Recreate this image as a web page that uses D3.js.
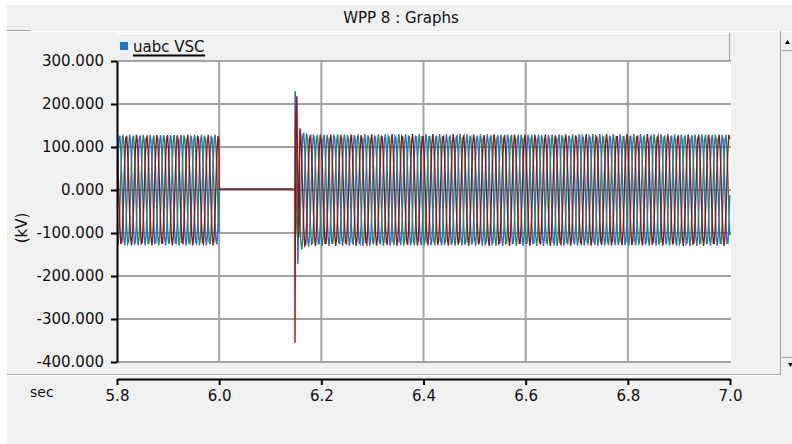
<!DOCTYPE html>
<html>
<head>
<meta charset="utf-8">
<script src="https://cdn.jsdelivr.net/npm/d3@7"></script>
<style>
  html, body { margin: 0; padding: 0; background: #fff; }
  svg { display: block; font-family: "DejaVu Sans", Verdana, sans-serif; }
</style>
</head>
<body>
<div id="chart"></div>
<script>
// ---- data ----
const xTicks = [5.8, 6.0, 6.2, 6.4, 6.6, 6.8, 7.0];
const yTicks = [300, 200, 100, 0, -100, -200, -300, -400];
const phaseNames = ['a', 'b', 'c'];
const phaseShiftDeg = [0, -120, 120];
const freqHz = 50;
const sampleStep = 0.0019;     // recorded step, coarse like the plotted trace
// segments: steady state, fault (voltage ~0), recovered
const segStart = [5.8, 6.0, 6.158];
const segEnd = [6.0, 6.148, 7.0];
const segPeakKV = [129, 2, 130];
const overshootKV = 14;        // extra peak right after clearing, decays
const overshootTau = 0.008;
// switching spikes at fault clearing (time, kV) per phase
const spikeA = [[6.148, 0], [6.1486, 230], [6.150, 205], [6.152, 70], [6.154, -172], [6.156, -60]];
const spikeB = [[6.148, 0], [6.1488, 120], [6.150, 165], [6.152, -90], [6.1545, -120], [6.156, 20]];
const spikeC = [[6.148, 2], [6.1484, -355], [6.149, -120], [6.150, 170], [6.152, 218], [6.154, 40], [6.156, -110]];

const W = 792, H = 444;
const plot = { left: 117, right: 730, top: 61, bottom: 362 };
const colors = { a: '#1f74d2', b: '#1a8a6c', c: '#a01010' };

const svg = d3.select('#chart').append('svg')
  .attr('width', W).attr('height', H)
  .attr('viewBox', `0 0 ${W} ${H}`);

// window chrome
svg.append('rect').attr('x', 7).attr('y', 5).attr('width', W - 7).attr('height', H - 5).attr('fill', '#f0f0f0');
svg.append('line').attr('x1', 7).attr('x2', 30).attr('y1', 30.5).attr('y2', 30.5).attr('stroke', '#a0a0a0');
svg.append('line').attr('x1', 7).attr('x2', W).attr('y1', 31.5).attr('y2', 31.5).attr('stroke', '#fff');
svg.append('text').attr('x', 401).attr('y', 23).attr('text-anchor', 'middle')
  .attr('font-size', 15).attr('fill', '#111').text('WPP  8 : Graphs');

// scrollbar on the right
svg.append('line').attr('x1', 780.5).attr('x2', 780.5).attr('y1', 31).attr('y2', 375).attr('stroke', '#a0a0a0');
svg.append('line').attr('x1', 782).attr('x2', W).attr('y1', 50.5).attr('y2', 50.5).attr('stroke', '#a0a0a0');
svg.append('line').attr('x1', 782).attr('x2', W).attr('y1', 357.5).attr('y2', 357.5).attr('stroke', '#a0a0a0');
svg.append('path').attr('d', 'M785,44 L790,44 L787.5,40 Z').attr('fill', '#000');
svg.append('path').attr('d', 'M788,363 L793,363 L790.5,367 Z').attr('fill', '#000');

// separator above x axis
svg.append('line').attr('x1', 7).attr('x2', 780).attr('y1', 374.5).attr('y2', 374.5).attr('stroke', '#a8a8a8');
svg.append('line').attr('x1', 7).attr('x2', 780).attr('y1', 375.5).attr('y2', 375.5).attr('stroke', '#fff');

// plot background
svg.append('rect').attr('x', plot.left).attr('y', plot.top).attr('width', plot.right - plot.left + 1)
  .attr('height', plot.bottom - plot.top).attr('fill', '#fff');

const x = d3.scaleLinear().domain([5.8, 7.0]).range([plot.left, plot.right]);
const y = d3.scaleLinear().domain([-400, 300]).range([plot.bottom, plot.top]);

// grid
const grid = svg.append('g').attr('stroke', '#a3a3a3').attr('stroke-width', 2);
grid.selectAll('.gx').data(xTicks.slice(1, -1)).join('line')
  .attr('x1', d => x(d)).attr('x2', d => x(d)).attr('y1', plot.top).attr('y2', plot.bottom);
grid.selectAll('.gy').data(yTicks).join('line')
  .attr('x1', plot.left).attr('x2', plot.right + 1).attr('y1', d => y(d)).attr('y2', d => y(d));

// build the three phase series
function seriesFor(k) {
  const pts = [];
  const shift = phaseShiftDeg[k] * Math.PI / 180;
  const spikes = [spikeA, spikeB, spikeC][k];
  for (let s = 0; s < segStart.length; s++) {
    if (s === 2) spikes.forEach(p => pts.push(p));
    const step = s === 1 ? 0.01 : sampleStep;
    for (let t = segStart[s]; t <= segEnd[s] + 1e-9; t += step) {
      let amp = segPeakKV[s];
      if (s === 2) amp += overshootKV * Math.exp(-(t - segStart[s]) / overshootTau);
      const v = s === 1 ? amp : amp * Math.sin(2 * Math.PI * freqHz * t + shift);
      pts.push([t, v]);
    }
  }
  return pts;
}

svg.append('clipPath').attr('id', 'clip').append('rect')
  .attr('x', plot.left).attr('y', plot.top - 1).attr('width', plot.right - plot.left + 1)
  .attr('height', plot.bottom - plot.top + 2);

const line = d3.line().x(d => x(d[0])).y(d => y(d[1]));
const wave = svg.append('g').attr('clip-path', 'url(#clip)');
[0, 1, 2].forEach(k => {
  wave.append('path').datum(seriesFor(k))
    .attr('fill', 'none')
    .attr('stroke', colors[phaseNames[k]])
    .attr('stroke-width', 1.4)
    .attr('d', line);
});

// legend bar
const lg = svg.append('g');
lg.append('rect').attr('x', 116).attr('y', 33).attr('width', 614).attr('height', 27).attr('fill', '#f0f0f0');
lg.append('line').attr('x1', 116).attr('x2', 730).attr('y1', 33.5).attr('y2', 33.5).attr('stroke', '#fff');
lg.append('line').attr('x1', 729.5).attr('x2', 729.5).attr('y1', 33).attr('y2', 60).attr('stroke', '#a0a0a0');
lg.append('rect').attr('x', 120).attr('y', 42).attr('width', 8).attr('height', 8).attr('fill', '#1f74d2');
lg.append('text').attr('x', 133).attr('y', 52).attr('font-size', 15).attr('fill', '#111').text('uabc VSC');
lg.append('line').attr('x1', 133).attr('x2', 205).attr('y1', 55.5).attr('y2', 55.5).attr('stroke', '#000').attr('stroke-width', 2);

// y axis
const yAxis = svg.append('g').attr('transform', `translate(${plot.left},0)`)
  .call(d3.axisLeft(y).tickValues(yTicks).tickSize(6).tickSizeOuter(0).tickPadding(7)
    .tickFormat(d => d.toFixed(3)));
yAxis.select('.domain').attr('stroke', '#000').attr('stroke-width', 2);
yAxis.selectAll('.tick line').attr('stroke', '#000').attr('stroke-width', 2);
yAxis.selectAll('.tick text').attr('font-size', 15).attr('font-family', '"DejaVu Sans", Verdana, sans-serif').attr('fill', '#111');

svg.append('text').attr('transform', 'translate(27,228) rotate(-90)').attr('text-anchor', 'middle')
  .attr('font-size', 15).attr('fill', '#111').text('(kV)');

// x axis, drawn below the plot as in the source tool
const xAxis = svg.append('g').attr('transform', 'translate(0,379)')
  .call(d3.axisBottom(x).tickValues(xTicks).tickSize(6).tickSizeOuter(0).tickPadding(5)
    .tickFormat(d3.format('.1f')));
xAxis.select('.domain').attr('stroke', '#000').attr('stroke-width', 2);
xAxis.selectAll('.tick line').attr('stroke', '#000').attr('stroke-width', 2);
xAxis.selectAll('.tick text').attr('font-size', 15).attr('font-family', '"DejaVu Sans", Verdana, sans-serif').attr('fill', '#111');

svg.append('text').attr('x', 30).attr('y', 397).attr('font-size', 14).attr('fill', '#111').text('sec');
</script>
</body>
</html>
